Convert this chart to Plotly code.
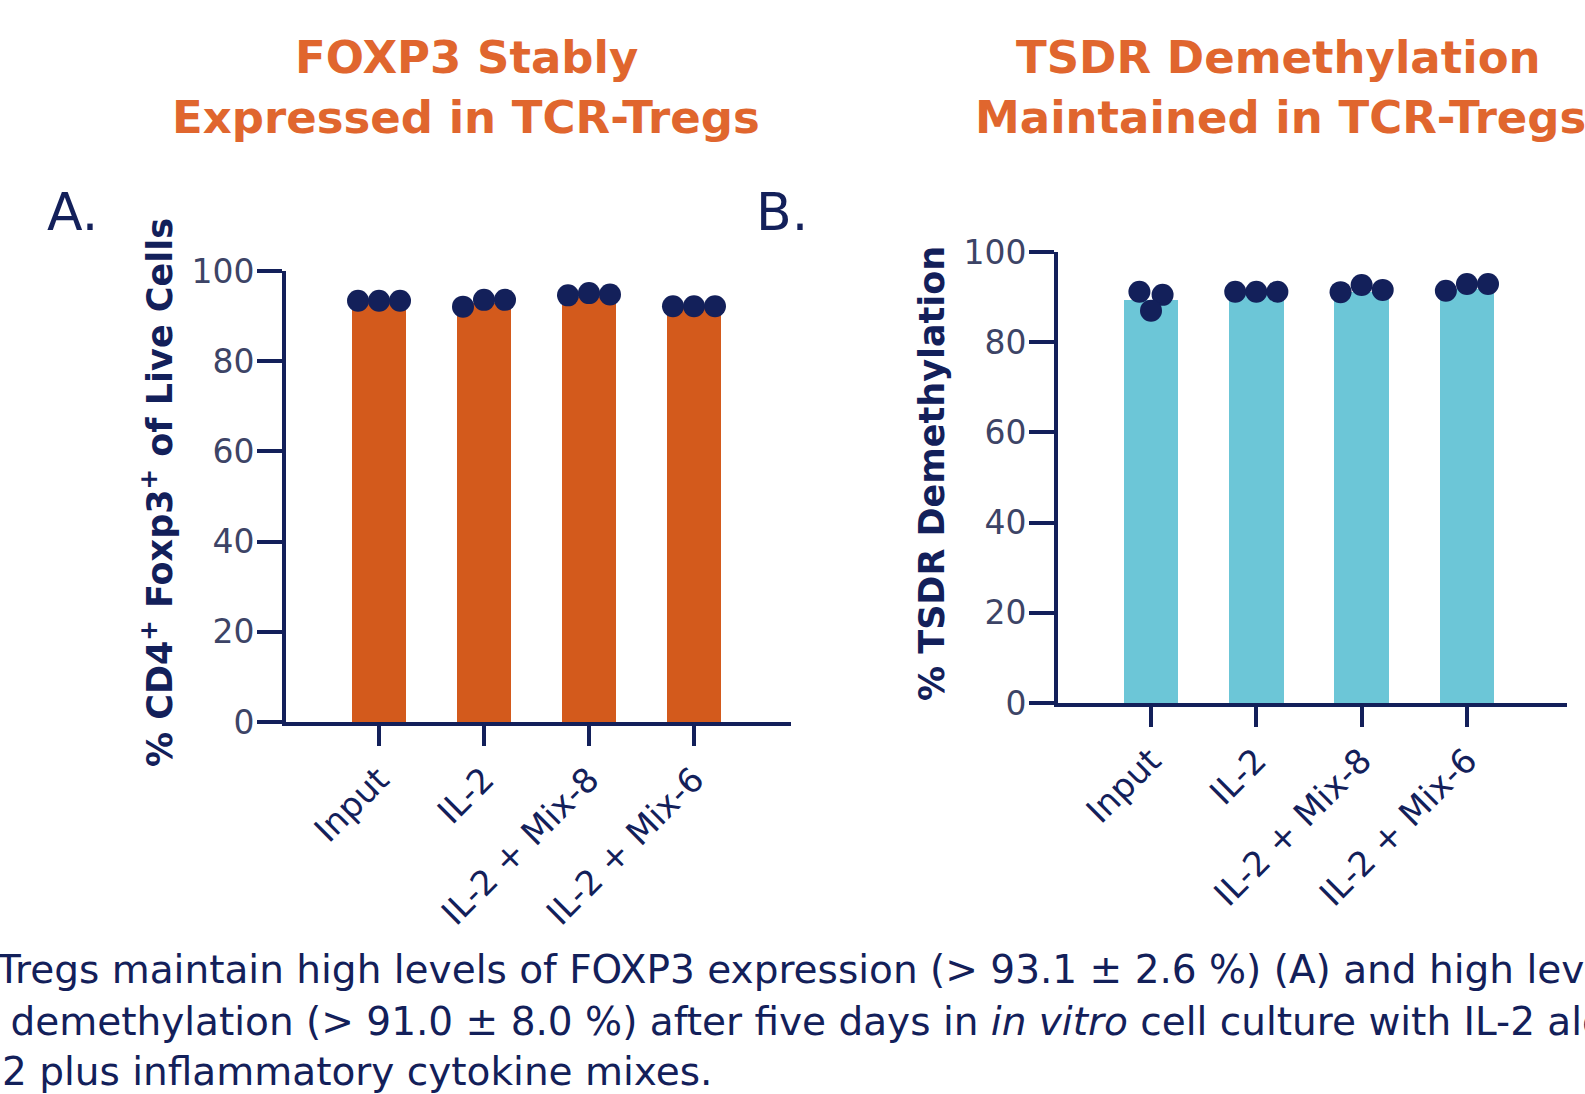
import plotly.graph_objects as go

categories = ["Input", "IL-2", "IL-2 + Mix-8", "IL-2 + Mix-6"]

# Panel A: % CD4+ Foxp3+ of live cells
foxp3_bar = [93.0, 92.9, 94.2, 92.1]
foxp3_pts = [
    [93.4, 93.4, 93.4],
    [92.1, 93.6, 93.6],
    [94.6, 95.1, 94.8],
    [92.2, 92.2, 92.2],
]

# Panel B: % TSDR demethylation
tsdr_bar = [89.4, 90.7, 91.2, 91.8]
tsdr_pts = [
    [91.2, 90.5, 87.0],
    [91.2, 91.2, 91.2],
    [91.1, 92.7, 91.6],
    [91.4, 92.9, 92.9],
]

yticks = [0, 20, 40, 60, 80, 100]

# horizontal spread of replicate dots within a bar (style)
JIT_A = [-0.2, 0.0, 0.2]
JIT_B = [[-0.11, 0.11, 0.0], [-0.2, 0.0, 0.2], [-0.2, 0.0, 0.2], [-0.2, 0.0, 0.2]]

NAVY = "#13205a"
TICKC = "#3d4466"
ORANGE_BAR = "#d35a1c"
CYAN_BAR = "#6cc6d7"
TITLE_OR = "#e0662e"

W, H = 1585, 1094
def px(x):
    return x / W
def py(y):
    return 1 - y / H

fig = go.Figure()
xs = list(range(len(categories)))

fig.add_trace(go.Bar(x=xs, y=foxp3_bar, width=0.52, marker=dict(color=ORANGE_BAR, line=dict(width=0)),
                     xaxis="x", yaxis="y", showlegend=False))
dx, dy = [], []
for i, pts in enumerate(foxp3_pts):
    for j, v in enumerate(pts):
        dx.append(i + JIT_A[j]); dy.append(v)
fig.add_trace(go.Scatter(x=dx, y=dy, mode="markers", marker=dict(size=22, color=NAVY),
                         xaxis="x", yaxis="y", showlegend=False, cliponaxis=False))

fig.add_trace(go.Bar(x=xs, y=tsdr_bar, width=0.52, marker=dict(color=CYAN_BAR, line=dict(width=0)),
                     xaxis="x2", yaxis="y2", showlegend=False))
dx, dy = [], []
for i, pts in enumerate(tsdr_pts):
    for j, v in enumerate(pts):
        dx.append(i + JIT_B[i][j]); dy.append(v)
fig.add_trace(go.Scatter(x=dx, y=dy, mode="markers", marker=dict(size=22, color=NAVY),
                         xaxis="x2", yaxis="y2", showlegend=False, cliponaxis=False))

tickfont = dict(family="DejaVu Sans", size=33, color=TICKC)
xtickfont = dict(family="DejaVu Sans", size=34, color=NAVY)

common_x = dict(tickmode="array", tickvals=xs, ticktext=categories, tickangle=-45,
                showline=True, linecolor=NAVY, linewidth=4, ticks="outside", ticklen=20,
                tickwidth=4, tickcolor=NAVY, showgrid=False, zeroline=False, tickfont=xtickfont,
                automargin=False)
common_y = dict(range=[0, 100], tickmode="array", tickvals=yticks, showline=True, linecolor=NAVY,
                linewidth=4, ticks="outside", ticklen=25, tickwidth=4, tickcolor=NAVY,
                showgrid=False, zeroline=False, tickfont=tickfont, automargin=False,
                ticklabelstandoff=-4)

fig.update_layout(
    width=W, height=H, margin=dict(l=0, r=0, t=0, b=0, autoexpand=False),
    paper_bgcolor="white", plot_bgcolor="white", bargap=0,
    xaxis=dict(domain=[px(286), px(791)], range=[-0.886, 3.924], anchor="y", **common_x),
    yaxis=dict(domain=[py(722), py(271)], anchor="x", **common_y),
    xaxis2=dict(domain=[px(1058), px(1567)], range=[-0.883, 3.95], anchor="y2", **common_x),
    yaxis2=dict(domain=[py(703), py(252)], anchor="x2", **common_y),
)

ann = []
tf = dict(family="DejaVu Sans", size=45, color=TITLE_OR)
ann += [
    dict(text="<b>FOXP3 Stably</b>", x=px(466), y=py(58), font=tf),
    dict(text="<b>Expressed in TCR-Tregs</b>", x=px(466), y=py(118), font=tf),
    dict(text="<b>TSDR Demethylation</b>", x=px(1278), y=py(58), font=tf),
    dict(text="<b>Maintained in TCR-Tregs</b>", x=px(1280), y=py(118), font=tf),
]
lf = dict(family="DejaVu Sans", size=52, color=NAVY)
ann += [
    dict(text="A.", x=px(45), y=py(212), xanchor="left", font=lf),
    dict(text="B.", x=px(754), y=py(212), xanchor="left", font=lf),
]
yf = dict(family="DejaVu Sans", size=35, color=NAVY)
ann += [
    dict(text="<b>% CD4<sup>+</sup> Foxp3<sup>+</sup> of Live Cells</b>", x=px(157), y=py(493),
         textangle=-90, font=yf),
    dict(text="<b>% TSDR Demethylation</b>", x=px(932), y=py(474), textangle=-90, font=yf),
]
cf = dict(family="DejaVu Sans", size=39, color=NAVY)
ann += [
    dict(text="Tregs maintain high levels of FOXP3 expression (> 93.1 ± 2.6 %) (A) and high levels of",
         x=px(-6), y=py(969), xanchor="left", font=cf),
    dict(text=" demethylation (> 91.0 ± 8.0 %) after five days in <i>in vitro</i> cell culture with IL-2 alone or",
         x=px(-4), y=py(1021), xanchor="left", font=cf),
    dict(text="2 plus inflammatory cytokine mixes.", x=px(0), y=py(1071), xanchor="left", font=cf),
]
for a in ann:
    a.setdefault("xanchor", "center")
    a.update(xref="paper", yref="paper", yanchor="middle", showarrow=False)
fig.update_layout(annotations=ann)

fig.write_html("out.html", config={"displayModeBar": False},
               post_script="document.body.style.margin='0';document.body.style.overflow='hidden';")
